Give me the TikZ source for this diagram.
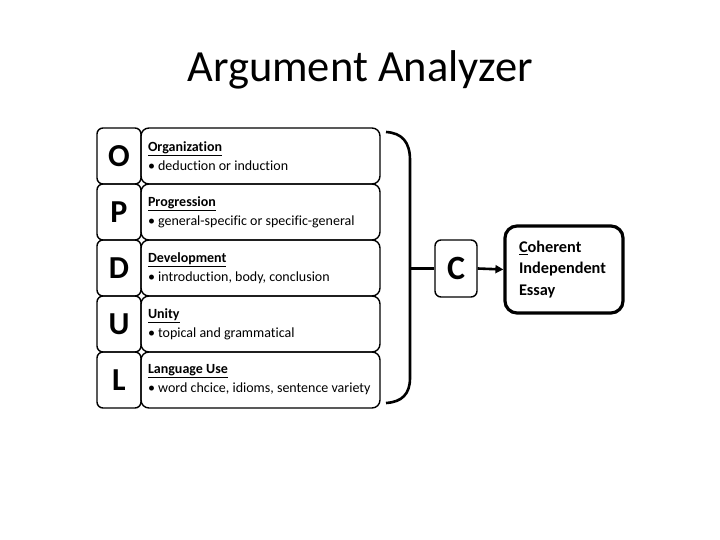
\documentclass[tikz,border=0pt]{standalone}
\usepackage{fontspec}
\setmainfont{Carlito}[Ligatures=NoCommon]
\usetikzlibrary{arrows.meta, positioning}

\tikzset{
  letterbox/.style={draw, line width=1.4pt, rounded corners=6pt, minimum width=44pt,
    minimum height=56pt, inner sep=0pt, font=\bfseries\fontsize{32}{32}\selectfont},
  itembox/.style={draw, line width=1.4pt, rounded corners=8pt, minimum width=239pt,
    minimum height=56pt, inner xsep=7pt, inner ysep=0pt, text width=225pt, align=flush left,
    font=\fontsize{14}{19}\selectfont},
  essaybox/.style={draw, line width=3.2pt, rounded corners=12pt, minimum width=118pt,
    minimum height=87pt, inner xsep=14pt, text width=90pt, align=flush left,
    font=\bfseries\fontsize{16.3}{21.5}\selectfont},
}

\begin{document}
\begin{tikzpicture}[x=1pt, y=-1pt]
  % page frame
  \useasboundingbox (0,0) rectangle (720,540);

  % title
  \node[font=\fontsize{44.5}{44.5}\selectfont, anchor=base] (title) at (360,82) {Argument Analyzer};

  % letter column
  \node[letterbox] (O) at (119,156) {O};
  \node[letterbox] (P) at (119,212) {P};
  \node[letterbox] (D) at (119,268) {D};
  \node[letterbox] (U) at (119,324) {U};
  \node[letterbox] (L) at (119,380) {L};

  % descriptions
  \node[itembox] (org) at (260.5,156)
    {\underline{\textbf{Organization}}\\\textbullet\ deduction or induction};
  \node[itembox] (prog) at (260.5,212)
    {\underline{\textbf{Progression}}\\\textbullet\ general-specific or specific-general};
  \node[itembox] (dev) at (260.5,268)
    {\underline{\textbf{Development}}\\\textbullet\ introduction, body, conclusion};
  \node[itembox] (unity) at (260.5,324)
    {\underline{\textbf{Unity}}\\\textbullet\ topical and grammatical};
  \node[itembox] (lang) at (260.5,380)
    {\underline{\textbf{Language Use}}\\\textbullet\ word chcice, idioms, sentence variety};

  % bracket
  \draw[line width=2.6pt] (386,132) .. controls (402,133) and (410,142) .. (410,160)
    -- (410,378) .. controls (410,394) and (402,402) .. (386,403);
  \coordinate (brk) at (410,268.5);

  % C and result
  \node[letterbox, minimum width=42pt, minimum height=57pt, font=\bfseries\fontsize{34}{34}\selectfont]
    (C) at (456,268.5) {C};
  \node[essaybox] (essay) at (564,269.5) {\underline{C}oherent\\Independent\\Essay};

  \draw[line width=2.6pt] (brk) -- (C.west);
  \draw[line width=2.6pt, -{Triangle[length=8pt, width=8pt]}] (C.east) -- (essay.west);
\end{tikzpicture}
\end{document}
